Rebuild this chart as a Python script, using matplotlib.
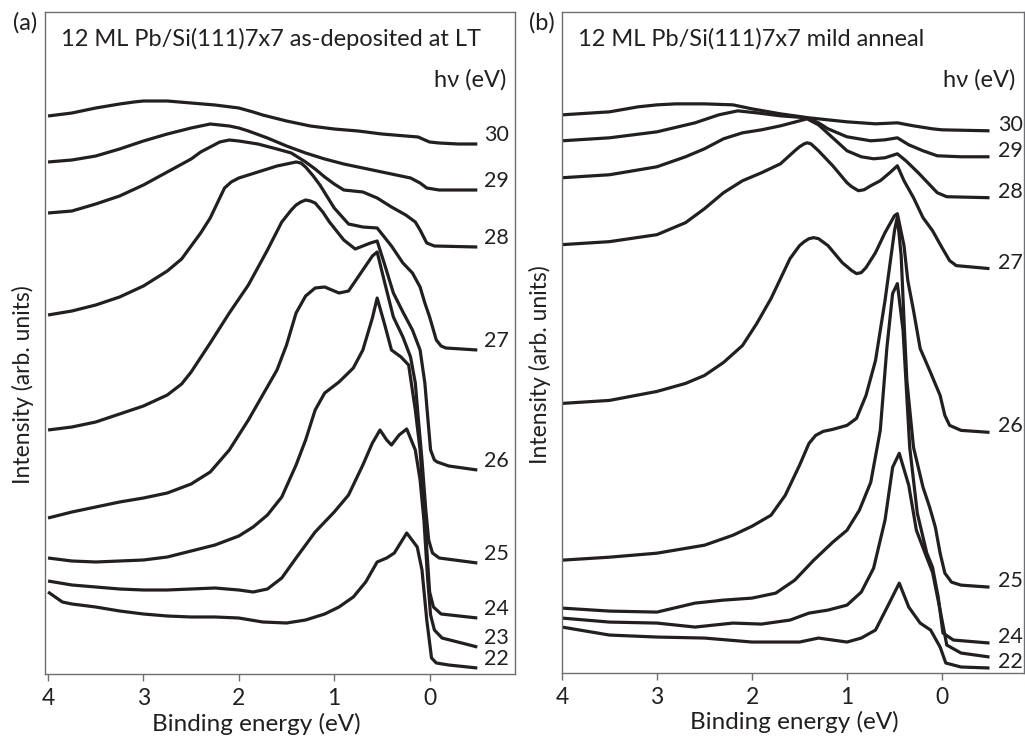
import numpy as np
import matplotlib
matplotlib.use("Agg")
import matplotlib.pyplot as plt

plt.rcParams['font.family'] = ['Lato', 'DejaVu Sans']

# photon energies (eV) of the spectra, top to bottom
hv_a = [30, 29, 28, 27, 26, 25, 24, 23, 22]
hv_b = [30, 29, 28, 27, 26, 25, 24, 23, 22]
# panel (b) leaves the 23 eV curve unlabelled
labelled_b = [30, 29, 28, 27, 26, 25, 24, 22]

ticks = [4, 3, 2, 1, 0]

# ---- panel (a): as-deposited at LT, [binding energy (eV), intensity (arb.)]
a30 = [[4.0, 558], [3.75, 561], [3.5, 566], [3.25, 570], [3.1, 572], [3.0, 573],
       [2.75, 573], [2.5, 571], [2.25, 569], [2.0, 566], [1.85, 562], [1.75, 559],
       [1.5, 553], [1.25, 548], [1.0, 545], [0.75, 543], [0.5, 540], [0.25, 538],
       [0.12, 537], [0.05, 534], [0.0, 532], [-0.1, 531], [-0.3, 530], [-0.5, 530]]
a29 = [[4.0, 512], [3.75, 514], [3.5, 518], [3.25, 525], [3.0, 533], [2.75, 540],
       [2.5, 546], [2.4, 548], [2.3, 550], [2.2, 549], [2.1, 548], [2.0, 546],
       [1.9, 543], [1.7, 536], [1.5, 528], [1.3, 521], [1.1, 515], [0.9, 510],
       [0.7, 506], [0.5, 502], [0.3, 498], [0.2, 496], [0.1, 491], [0.03, 486],
       [-0.1, 484], [-0.5, 484]]
a28 = [[4.0, 461], [3.75, 463], [3.5, 470], [3.25, 478], [3.0, 489], [2.75, 502],
       [2.5, 515], [2.4, 522], [2.3, 527], [2.2, 532], [2.1, 534], [2.0, 533],
       [1.8, 530], [1.6, 525], [1.45, 521], [1.3, 512], [1.2, 505], [1.1, 497],
       [1.0, 490], [0.9, 484], [0.7, 482], [0.55, 476], [0.4, 467], [0.25, 459],
       [0.15, 452], [0.1, 444], [0.03, 431], [-0.05, 428], [-0.5, 427]]
a27 = [[4.0, 359], [3.75, 363], [3.5, 369], [3.25, 377], [3.0, 388], [2.75, 403],
       [2.6, 415], [2.5, 428], [2.4, 441], [2.3, 456], [2.2, 476], [2.15, 486],
       [2.08, 492], [2.0, 496], [1.8, 502], [1.6, 508], [1.45, 511], [1.4, 512],
       [1.35, 511], [1.3, 507], [1.22, 498], [1.15, 489], [1.0, 466], [0.85, 450],
       [0.7, 447], [0.55, 446], [0.4, 428], [0.28, 411], [0.18, 401], [0.1, 387],
       [0.05, 371], [0.0, 357], [-0.07, 334], [-0.12, 328], [-0.17, 326],
       [-0.5, 324]]
a26 = [[4.0, 244], [3.75, 247], [3.5, 252], [3.25, 260], [3.0, 268], [2.75, 279],
       [2.6, 290], [2.5, 302], [2.3, 331], [2.1, 361], [1.9, 389], [1.7, 424],
       [1.55, 452], [1.45, 464], [1.4, 469], [1.35, 472], [1.3, 474], [1.25, 473],
       [1.2, 471], [1.12, 462], [1.05, 452], [0.9, 434], [0.78, 425], [0.7, 428],
       [0.62, 431], [0.55, 433], [0.47, 409], [0.38, 381], [0.28, 362],
       [0.18, 344], [0.1, 324], [0.05, 291], [0.02, 257], [-0.01, 224],
       [-0.05, 214], [-0.08, 212], [-0.2, 208], [-0.5, 204]]
a25 = [[4.0, 156], [3.75, 162], [3.5, 167], [3.25, 172], [3.0, 176], [2.75, 181],
       [2.5, 190], [2.3, 202], [2.1, 224], [1.9, 254], [1.75, 279], [1.6, 304],
       [1.5, 329], [1.4, 361], [1.3, 378], [1.2, 386], [1.1, 387], [1.0, 383],
       [0.95, 381], [0.85, 383], [0.7, 404], [0.6, 418], [0.55, 422], [0.47, 391],
       [0.38, 357], [0.28, 337], [0.2, 317], [0.15, 291], [0.12, 257], [0.08, 214],
       [0.04, 164], [0.01, 134], [-0.03, 121], [-0.1, 116], [-0.5, 111]]
a24 = [[4.0, 116], [3.75, 113], [3.5, 112], [3.25, 113], [3.0, 114], [2.75, 117],
       [2.5, 123], [2.25, 129], [2.0, 138], [1.85, 147], [1.7, 159], [1.55, 177],
       [1.4, 209], [1.3, 234], [1.2, 264], [1.1, 281], [0.95, 292], [0.8, 306],
       [0.7, 324], [0.6, 356], [0.55, 376], [0.47, 349], [0.4, 324], [0.3, 317],
       [0.22, 309], [0.15, 264], [0.1, 224], [0.05, 154], [0.0, 82], [-0.04, 67],
       [-0.12, 60], [-0.5, 56]]
a23 = [[4.0, 93], [3.75, 89], [3.5, 87], [3.25, 85], [3.0, 84], [2.75, 84],
       [2.5, 85], [2.25, 86], [2.0, 84], [1.85, 82], [1.7, 85], [1.55, 96],
       [1.4, 116], [1.2, 142], [1.0, 162], [0.85, 179], [0.7, 209], [0.6, 231],
       [0.52, 244], [0.45, 234], [0.4, 229], [0.32, 239], [0.24, 245], [0.15, 224],
       [0.1, 194], [0.06, 154], [0.02, 94], [-0.01, 59], [-0.05, 44],
       [-0.13, 36], [-0.5, 27]]
a22 = [[4.0, 82], [3.85, 72], [3.75, 70], [3.5, 67], [3.25, 63], [3.0, 60],
       [2.75, 58], [2.5, 57], [2.25, 57], [2.0, 56], [1.75, 52], [1.5, 51],
       [1.3, 54], [1.1, 60], [0.95, 67], [0.8, 77], [0.67, 92], [0.55, 112],
       [0.45, 116], [0.37, 121], [0.24, 141], [0.13, 127], [0.08, 104], [0.03, 54],
       [-0.02, 16], [-0.07, 11], [-0.2, 9], [-0.5, 6]]

# ---- panel (b): mild anneal
b30 = [[4.0, 559], [3.5, 562], [3.2, 567], [3.0, 569], [2.8, 570], [2.5, 570],
       [2.2, 569], [2.0, 565], [1.7, 560], [1.4, 556], [1.0, 552], [0.7, 550],
       [0.47, 551], [0.3, 548], [0.1, 545], [0.0, 544], [-0.5, 543]]
b29 = [[4.0, 533], [3.5, 536], [3.0, 542], [2.6, 551], [2.35, 559], [2.25, 561],
       [2.15, 563], [2.05, 562], [1.95, 561], [1.7, 558], [1.42, 556], [1.3, 551],
       [1.2, 545], [1.0, 537], [0.75, 533], [0.6, 534], [0.47, 536], [0.35, 529],
       [0.2, 523], [0.05, 518], [-0.2, 517], [-0.5, 517]]
b28 = [[4.0, 496], [3.5, 499], [3.0, 507], [2.7, 517], [2.5, 525], [2.3, 535],
       [2.1, 541], [1.9, 544], [1.7, 548], [1.42, 555], [1.3, 549], [1.15, 536],
       [1.0, 523], [0.85, 517], [0.72, 515], [0.6, 516], [0.47, 520], [0.38, 513],
       [0.25, 501], [0.12, 488], [0.05, 481], [-0.05, 477], [-0.5, 476]]
b27 = [[4.0, 429], [3.5, 432], [3.0, 439], [2.7, 451], [2.5, 465], [2.3, 481],
       [2.1, 493], [1.9, 501], [1.7, 510], [1.55, 523], [1.5, 527], [1.45, 530],
       [1.42, 531], [1.38, 530], [1.3, 523], [1.15, 508], [1.0, 491], [0.95, 487],
       [0.88, 483], [0.82, 484], [0.75, 488], [0.65, 493], [0.55, 501],
       [0.47, 508], [0.4, 493], [0.3, 476], [0.2, 456], [0.1, 443], [0.0, 426],
       [-0.08, 413], [-0.15, 408], [-0.5, 405]]
b26 = [[4.0, 270], [3.5, 273], [3.0, 282], [2.7, 290], [2.5, 298], [2.3, 311],
       [2.1, 328], [1.95, 350], [1.8, 375], [1.6, 415], [1.5, 428], [1.45, 432],
       [1.4, 435], [1.35, 436], [1.3, 435], [1.2, 428], [1.05, 411], [0.95, 403],
       [0.9, 400], [0.85, 401], [0.8, 406], [0.7, 421], [0.6, 441], [0.5, 458],
       [0.47, 460], [0.4, 428], [0.36, 393], [0.3, 363], [0.23, 325], [0.13, 303],
       [0.02, 278], [-0.03, 258], [-0.08, 248], [-0.2, 243], [-0.5, 241]]
b25 = [[4.0, 113], [3.5, 116], [3.0, 120], [2.5, 128], [2.2, 138], [2.0, 147],
       [1.8, 158], [1.65, 178], [1.5, 208], [1.4, 230], [1.33, 238], [1.25, 242],
       [1.15, 244], [1.0, 248], [0.9, 255], [0.8, 278], [0.7, 313], [0.6, 373],
       [0.55, 408], [0.5, 443], [0.47, 457], [0.43, 418], [0.4, 353], [0.37, 293],
       [0.3, 226], [0.2, 186], [0.13, 166], [0.07, 146], [0.02, 120], [-0.03, 100],
       [-0.1, 91], [-0.2, 88], [-0.5, 86]]
b24 = [[4.0, 65], [3.5, 62], [3.0, 61], [2.6, 70], [2.3, 73], [2.0, 75],
       [1.75, 80], [1.55, 93], [1.35, 113], [1.15, 131], [1.0, 143], [0.87, 163],
       [0.75, 191], [0.65, 243], [0.58, 326], [0.52, 380], [0.47, 390], [0.41, 343],
       [0.34, 226], [0.26, 160], [0.16, 120], [0.1, 106], [0.04, 76], [-0.01, 40],
       [-0.12, 33], [-0.5, 30]]
b23 = [[4.0, 55], [3.5, 51], [3.0, 50], [2.6, 46], [2.2, 50], [1.9, 49],
       [1.6, 53], [1.4, 60], [1.2, 63], [1.0, 68], [0.85, 81], [0.72, 105],
       [0.6, 153], [0.52, 206], [0.45, 220], [0.35, 188], [0.27, 143], [0.17, 118],
       [0.1, 101], [0.02, 63], [-0.05, 28], [-0.2, 20], [-0.5, 16]]
b22 = [[4.0, 46], [3.5, 38], [3.0, 36], [2.5, 35], [2.0, 31], [1.5, 31],
       [1.3, 35], [1.0, 31], [0.85, 35], [0.7, 43], [0.55, 71], [0.45, 90],
       [0.35, 66], [0.23, 50], [0.12, 43], [0.02, 26], [-0.04, 10], [-0.2, 6],
       [-0.5, 5]]

spectra_a = [a30, a29, a28, a27, a26, a25, a24, a23, a22]
spectra_b = [b30, b29, b28, b27, b26, b25, b24, b23, b22]

ink = '#231f20'
frame = '#6d6e71'

fig = plt.figure(figsize=(10.25, 7.42), dpi=100)
ax_a = fig.add_axes([45 / 1025, 68 / 742, 470 / 1025, 662 / 742])
ax_b = fig.add_axes([562 / 1025, 69 / 742, 462 / 1025, 661 / 742])


def draw_panel(ax, spectra, hvs, labelled, xlim, title, lab_x, lab_dy):
    for hv, pts in zip(hvs, spectra):
        arr = np.array(pts, dtype=float)
        ax.plot(arr[:, 0], arr[:, 1], color=ink, lw=2.3,
                solid_joinstyle='round', solid_capstyle='butt')
        if hv in labelled:
            ax.text(lab_x, arr[-1, 1] + lab_dy, str(hv), fontsize=15.5,
                    color=ink, ha='left', va='center')
    ax.set_xlim(*xlim)
    ax.set_ylim(0, 662)
    ax.set_xticks(ticks)
    ax.set_xticklabels([str(t) for t in ticks])
    ax.set_yticks([])
    ax.tick_params(axis='x', direction='out', length=5, width=1.0,
                   color=frame, labelsize=16.5, labelcolor=ink, pad=5)
    for s in ax.spines.values():
        s.set_color(frame)
        s.set_linewidth(1.0)
    ax.text(0.034, 0.960, title, transform=ax.transAxes, fontsize=17,
            color=ink, ha='left', va='center')
    ax.text(0.982, 0.898, 'h\u03bd (eV)', transform=ax.transAxes,
            fontsize=17, color=ink, ha='right', va='center',
            family=['Lato', 'DejaVu Sans'])


draw_panel(ax_a, spectra_a, hv_a, hv_a, (4.032, -0.895),
           '12 ML Pb/Si(111)7x7 as-deposited at LT', -0.57, 9)
draw_panel(ax_b, spectra_b, hv_b, labelled_b, (4.0, -0.863),
           '12 ML Pb/Si(111)7x7 mild anneal', -0.59, 6)

fig.text(25 / 1025, 1 - 23 / 742, '(a)', fontsize=17, color=ink,
         ha='center', va='center')
fig.text(542 / 1025, 1 - 23 / 742, '(b)', fontsize=17, color=ink,
         ha='center', va='center')

fig.text(23 / 1025, 1 - 385 / 742, 'Intensity (arb. units)', rotation=90,
         fontsize=16.5, color=ink, ha='center', va='center')
fig.text(540 / 1025, 1 - 365 / 742, 'Intensity (arb. units)', rotation=90,
         fontsize=16.5, color=ink, ha='center', va='center')

fig.text(256 / 1025, 1 - 724 / 742, 'Binding energy (eV)', fontsize=17.5,
         color=ink, ha='center', va='center')
fig.text(794 / 1025, 1 - 722 / 742, 'Binding energy (eV)', fontsize=17.5,
         color=ink, ha='center', va='center')

fig.savefig('out.png', dpi=100)
